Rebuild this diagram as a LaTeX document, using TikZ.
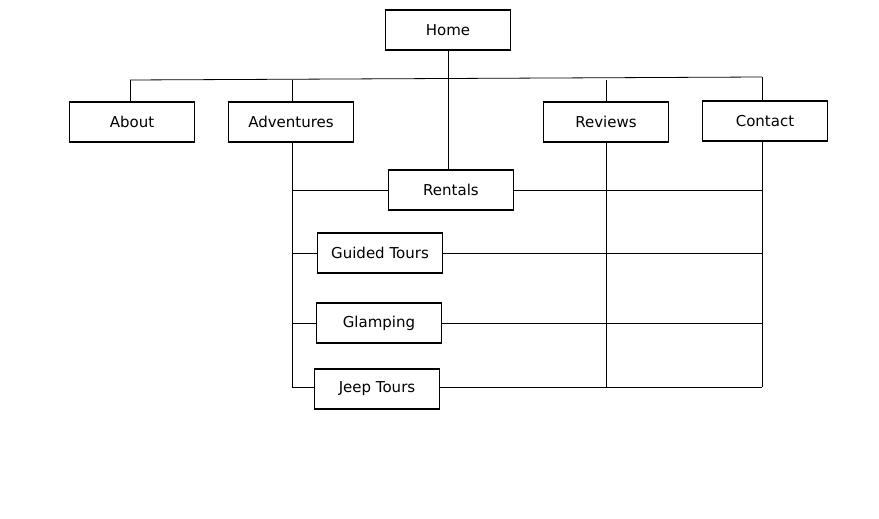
\documentclass[tikz,border=0pt]{standalone}
\usepackage{fontspec}
\setmainfont{DejaVu Sans}
\begin{document}
\begin{tikzpicture}[x=1pt,y=-1pt,
  pagebox/.style={draw=black, line width=1.1pt, fill=white, minimum width=125pt, minimum height=40pt, inner sep=0pt, font=\fontsize{15}{17}\selectfont},
  link/.style={draw=black, line width=0.8pt}]
\useasboundingbox (0,0) rectangle (879,519);
% nodes
\node[pagebox] (home) at (448,30) {Home};
\node[pagebox] (about) at (132,122) {About};
\node[pagebox] (adventures) at (291,122) {Adventures};
\node[pagebox] (reviews) at (606,122) {Reviews};
\node[pagebox] (contact) at (765,121) {Contact};
\node[pagebox] (rentals) at (451,190) {Rentals};
\node[pagebox] (guided) at (380,253) {Guided Tours};
\node[pagebox] (glamping) at (379,323) {Glamping};
\node[pagebox] (jeep) at (377,389) {Jeep Tours};
% helper coordinates
\coordinate (barL) at (130,80);
\coordinate (barR) at (762,77);
\coordinate (advX) at (292,0);
\coordinate (revX) at (606,0);
\coordinate (conX) at (762,0);
\coordinate (bottom) at (0,387);
% top bar
\draw[link] (barL) -- (barR);
\draw[link] (barL) -- (barL |- about.north);
\draw[link] (advX |- barL) -- (advX |- adventures.north);
\draw[link] (revX |- barL) -- (revX |- reviews.north);
\draw[link] (barR) -- (conX |- contact.north);
\draw[link] (home.south) -- (home.south |- rentals.north);
% adventures children
\draw[link] (advX |- adventures.south) -- (advX |- bottom);
\draw[link] (advX |- rentals.west) -- (rentals.west);
\draw[link] (advX |- guided.west) -- (guided.west);
\draw[link] (advX |- glamping.west) -- (glamping.west);
\draw[link] (advX |- bottom) -- (jeep.west |- bottom);
% reviews & contact
\draw[link] (revX |- reviews.south) -- (revX |- bottom);
\draw[link] (conX |- contact.south) -- (conX |- bottom);
\draw[link] (rentals.east) -- (conX |- rentals.east);
\draw[link] (guided.east) -- (conX |- guided.east);
\draw[link] (glamping.east) -- (conX |- glamping.east);
\draw[link] (jeep.east |- bottom) -- (conX |- bottom);
\end{tikzpicture}
\end{document}
